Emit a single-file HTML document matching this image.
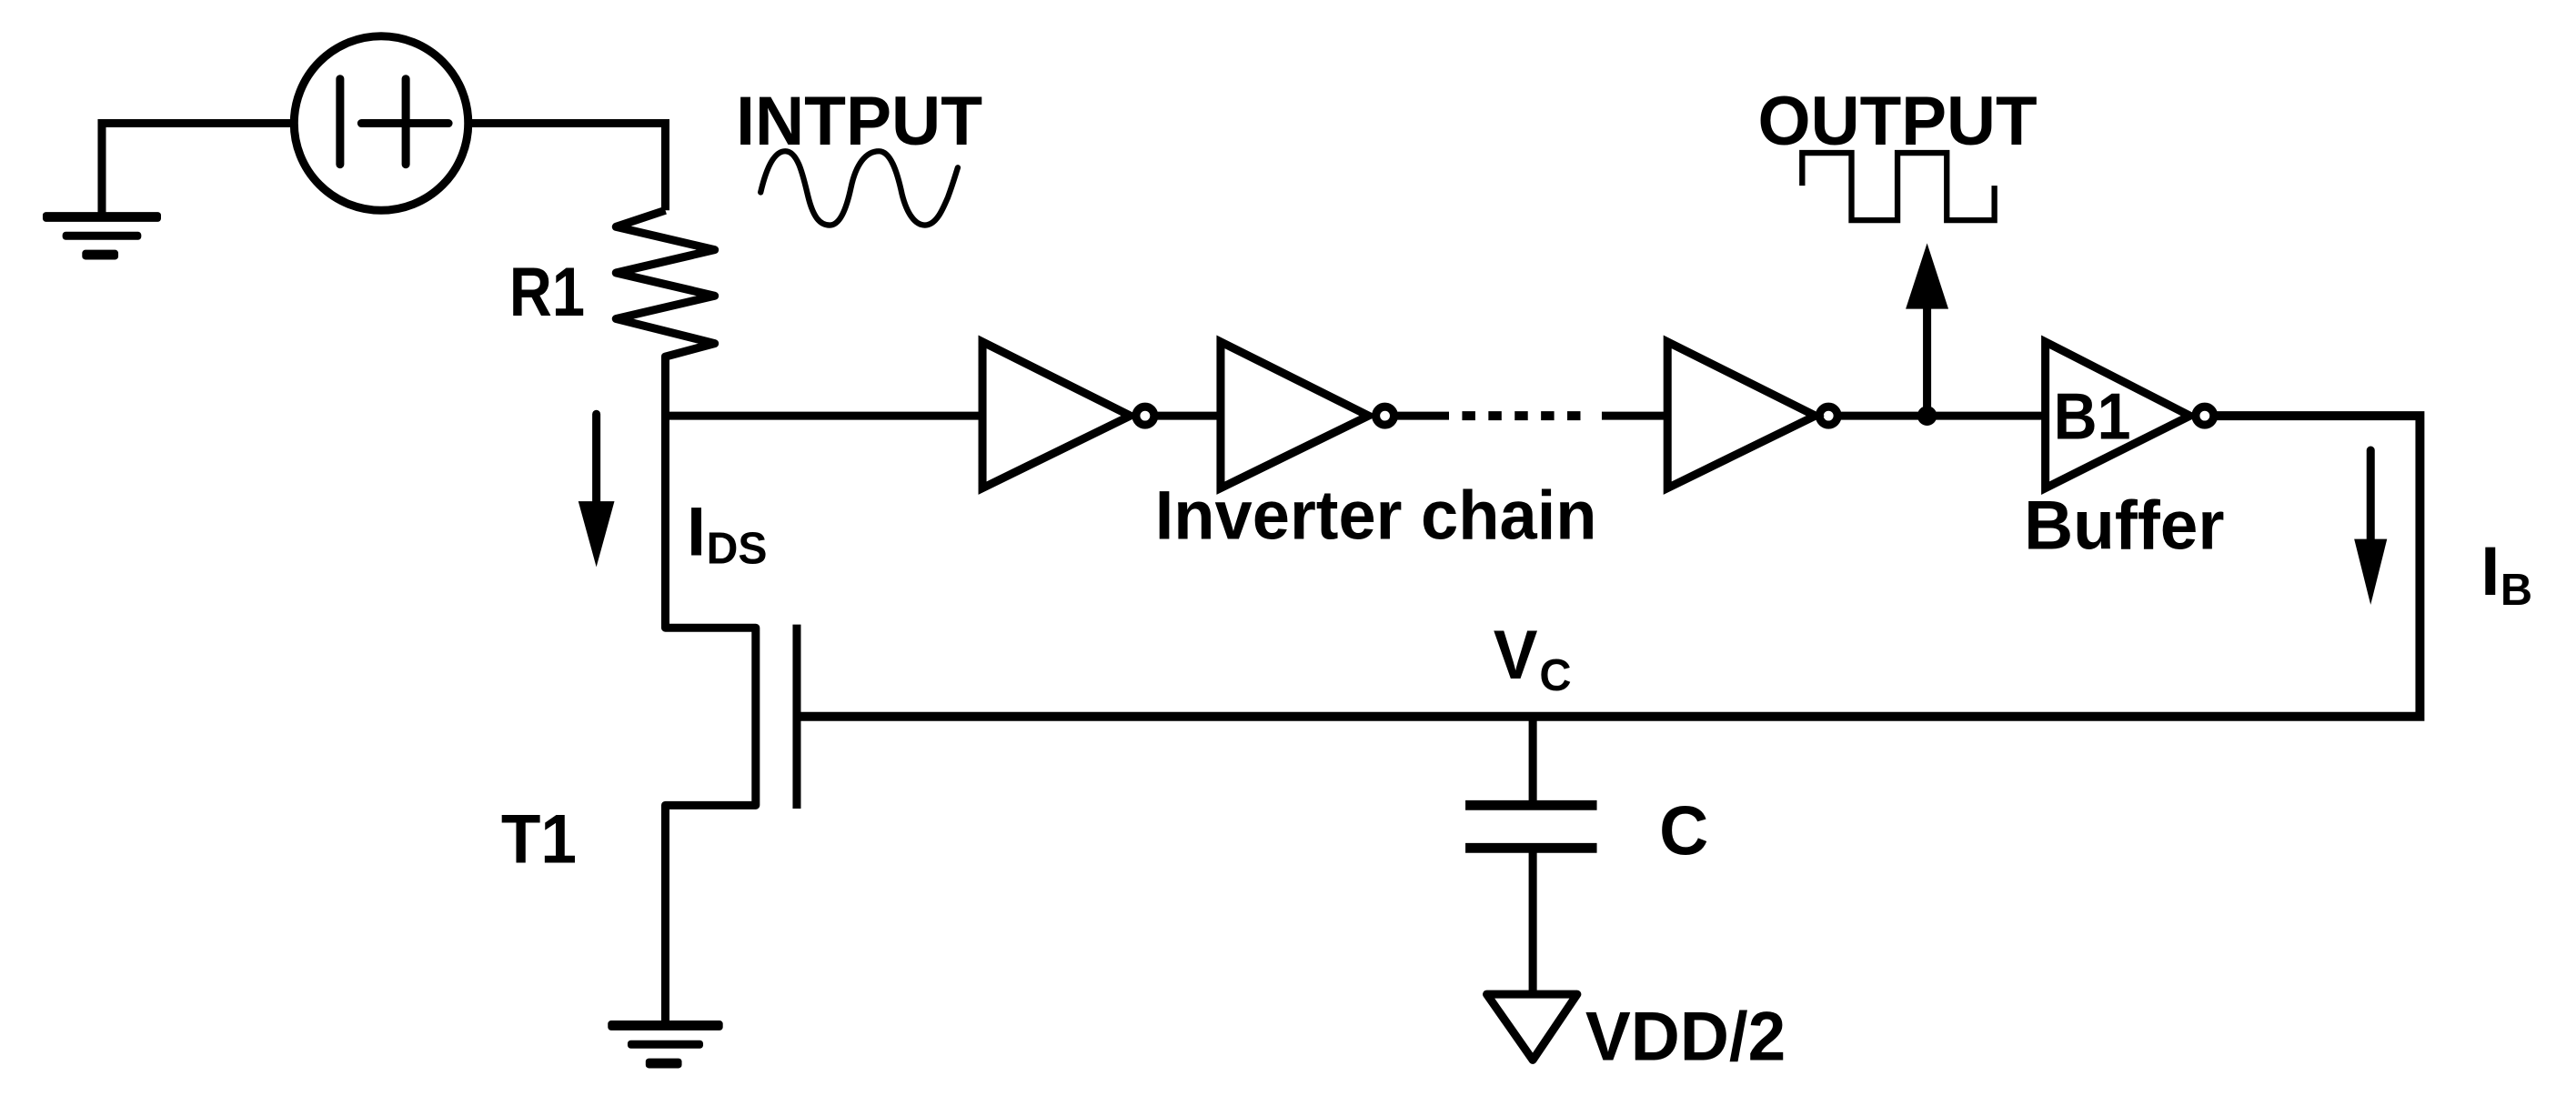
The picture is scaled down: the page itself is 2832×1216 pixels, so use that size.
<!DOCTYPE html>
<html><head><meta charset="utf-8"><style>html,body{margin:0;padding:0;background:#fff;}svg{display:block;}</style></head>
<body>
<svg width="2832" height="1216" viewBox="0 0 1568 673" preserveAspectRatio="none" xmlns="http://www.w3.org/2000/svg">
<g fill="none" stroke="#000" stroke-width="5" stroke-linejoin="miter" stroke-linecap="butt">
<polyline points="62,132 62,75 180,75"/>
<circle cx="232" cy="75" r="53"/>
<line x1="207" y1="48" x2="207" y2="100" stroke-linecap="round"/>
<line x1="247" y1="48" x2="247" y2="100" stroke-linecap="round"/>
<line x1="220" y1="75" x2="273" y2="75" stroke-linecap="round"/>
<polyline points="285,75 405,75 405,128"/>
<polyline points="405,128 375,138 435,152 375,166 435,180 375,194 435,209 405,217 405,382 460,382 460,490 405,490 405,622" stroke-linejoin="round"/>
<line x1="405" y1="253" x2="598" y2="253"/>
<polygon points="598,208 598,297 688,253"/>
<circle cx="697" cy="253" r="5.5"/>
<line x1="703" y1="253" x2="743" y2="253"/>
<polygon points="743,208 743,297 833,253"/>
<circle cx="843" cy="253" r="5.5"/>
<line x1="849" y1="253" x2="882" y2="253"/>
<line x1="890" y1="253" x2="970" y2="253" stroke-dasharray="8,8" stroke-width="5.5"/>
<line x1="975" y1="253" x2="1015" y2="253"/>
<polygon points="1015,208 1015,297 1105,253"/>
<circle cx="1113" cy="253" r="5.5"/>
<line x1="1119" y1="253" x2="1245" y2="253"/>
<polygon points="1245,208 1245,297 1333,253"/>
<circle cx="1342" cy="253" r="5.5"/>
<polyline points="1348,253 1473,253 1473,436 487,436" stroke-width="5.5"/>
<line x1="1173" y1="253" x2="1173" y2="185"/>
<line x1="363" y1="252" x2="363" y2="310" stroke-linecap="round"/>
<line x1="1443" y1="274" x2="1443" y2="330" stroke-linecap="round"/>
<line x1="485" y1="380" x2="485" y2="492"/>
<line x1="933" y1="436" x2="933" y2="490"/>
<line x1="892" y1="490" x2="972" y2="490" stroke-width="6"/>
<line x1="892" y1="516" x2="972" y2="516" stroke-width="6"/>
<line x1="933" y1="516" x2="933" y2="605"/>
<polygon points="905,605 960,605 933,645" stroke-linejoin="round"/>
<path d="M463,117 C467,100 472,92 478,92 C486,92 489,108 492,120 C495,132 499,137 505,137 C511,137 515,128 518,114 C521,100 527,92 535,92 C542,92 546,104 549,118 C552,130 557,137 563,137 C570,137 574,127 577,120 C580,112 582,105 583,102" stroke-width="3.5" stroke-linecap="round"/>
<polyline points="1097,113 1097,93 1127,93 1127,134 1155,134 1155,93 1185,93 1185,134 1214,134 1214,113" stroke-width="3.5"/>
</g>
<g fill="#000" stroke="none">
<rect x="26" y="129" width="72" height="6" rx="2"/>
<rect x="38" y="141" width="48" height="5" rx="2"/>
<rect x="50" y="152" width="22" height="6" rx="2"/>
<rect x="370" y="621" width="70" height="6" rx="2"/>
<rect x="382" y="633" width="46" height="5" rx="2"/>
<rect x="393" y="644" width="22" height="6" rx="2"/>
<circle cx="1173" cy="253" r="6"/>
<polygon points="1160,188 1173,148 1186,188"/>
<polygon points="352,305 363,345 374,305"/>
<polygon points="1433,328 1443,368 1453,328"/>
</g>
<g font-family="Liberation Sans, Arial, sans-serif" font-weight="bold" fill="#000">
<text x="448" y="88" font-size="42" textLength="150" lengthAdjust="spacingAndGlyphs">INTPUT</text>
<text x="1070" y="88" font-size="42" textLength="170" lengthAdjust="spacingAndGlyphs">OUTPUT</text>
<text x="310" y="192" font-size="42" textLength="46" lengthAdjust="spacingAndGlyphs">R1</text>
<text x="703" y="328" font-size="42" textLength="269" lengthAdjust="spacingAndGlyphs">Inverter chain</text>
<text x="1232" y="334" font-size="42" textLength="122" lengthAdjust="spacingAndGlyphs">Buffer</text>
<text x="1250" y="267" font-size="40" textLength="47" lengthAdjust="spacingAndGlyphs">B1</text>
<text x="418" y="338" font-size="42">I</text>
<text x="430" y="343" font-size="27" textLength="37" lengthAdjust="spacingAndGlyphs">DS</text>
<text x="1510" y="362" font-size="42">I</text>
<text x="1522" y="368" font-size="27">B</text>
<text x="909" y="413" font-size="42" textLength="27" lengthAdjust="spacingAndGlyphs">V</text>
<text x="937" y="420" font-size="27">C</text>
<text x="305" y="525" font-size="42" textLength="46" lengthAdjust="spacingAndGlyphs">T1</text>
<text x="1010" y="520" font-size="42" textLength="30" lengthAdjust="spacingAndGlyphs">C</text>
<text x="965" y="645" font-size="42" textLength="122" lengthAdjust="spacingAndGlyphs">VDD/2</text>
</g>
</svg>
</body></html>
